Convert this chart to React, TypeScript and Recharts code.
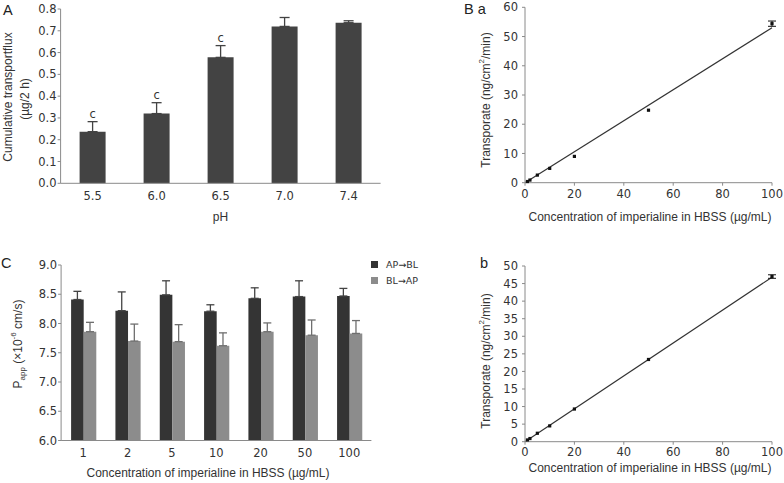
import React from 'react';
import {
  BarChart, Bar, XAxis, YAxis, ErrorBar, ReferenceDot, ComposedChart, Scatter,
  ReferenceLine, Legend,
} from 'recharts';

// ---------- Panel A data ----------
const phCategories = ['5.5', '6.0', '6.5', '7.0', '7.4'];
const fluxValues = [0.237, 0.32, 0.578, 0.72, 0.737];
const fluxErrors = [0.046, 0.05, 0.054, 0.041, 0.009];
const fluxSignificance = ['c', 'c', 'c', '', ''];
const fluxTicks = [0, 0.1, 0.2, 0.3, 0.4, 0.5, 0.6, 0.7, 0.8];

// ---------- Panel B data ----------
const concentrations = [1, 2, 5, 10, 20, 50, 100];
const transportRateA = [0.4, 0.9, 2.6, 4.9, 9.0, 24.8, 54.4];
const transportRateAErr = [0, 0, 0, 0, 0, 0, 0.9];
const fitLineA = [{ x: 0, y: 0 }, { x: 100, y: 53.0 }];
const rateTicksA = [0, 10, 20, 30, 40, 50, 60];

const transportRateB = [0.5, 0.9, 2.4, 4.5, 9.3, 23.4, 47.0];
const transportRateBErr = [0, 0, 0, 0, 0, 0, 0.5];
const fitLineB = [{ x: 0, y: 0 }, { x: 100, y: 46.8 }];
const rateTicksB = [0, 5, 10, 15, 20, 25, 30, 35, 40, 45, 50];
const concTicks = [0, 20, 40, 60, 80, 100];

// ---------- Panel C data ----------
const concCategories = ['1', '2', '5', '10', '20', '50', '100'];
const pappApBl = [8.41, 8.22, 8.49, 8.21, 8.43, 8.46, 8.47];
const pappApBlErr = [0.14, 0.32, 0.24, 0.11, 0.18, 0.27, 0.13];
const pappBlAp = [7.86, 7.70, 7.69, 7.62, 7.86, 7.80, 7.83];
const pappBlApErr = [0.16, 0.29, 0.29, 0.22, 0.15, 0.26, 0.22];
const pappTicks = [6.0, 6.5, 7.0, 7.5, 8.0, 8.5, 9.0];
const seriesNames = ['AP\u2192BL', 'BL\u2192AP'];

// ---------- built tables ----------
const fluxData = phCategories.map((ph, i) => ({
  ph, flux: fluxValues[i], fluxErr: [0, fluxErrors[i]], sig: fluxSignificance[i], top: fluxValues[i] + fluxErrors[i],
}));
const rateDataA = concentrations.map((c, i) => ({ conc: c, rate: transportRateA[i], err: transportRateAErr[i] }));
const rateDataB = concentrations.map((c, i) => ({ conc: c, rate: transportRateB[i], err: transportRateBErr[i] }));
const pappData = concCategories.map((c, i) => ({
  conc: c, ab: pappApBl[i], abErr: [0, pappApBlErr[i]], ba: pappBlAp[i], baErr: [0, pappBlApErr[i]],
}));

// ---------- styles ----------
const FONT_LABEL = '"Liberation Sans", Arial, sans-serif';
const FONT_TICK = '"DejaVu Sans", sans-serif';
const TEXT = '#333';
const AXIS = '#8a8a8a';
const tickStyle = { fontFamily: FONT_TICK, fontSize: 11.5, fill: TEXT };
const labelStyle = { fontFamily: FONT_LABEL, fontSize: 12, fill: TEXT };
const letterStyle = { fontFamily: FONT_LABEL, fontSize: 14.5, fill: '#222' };

const SquareDot = (props: any) => (
  <rect x={props.cx - 1.6} y={props.cy - 1.6} width={3.2} height={3.2} fill="#111" />
);

const vText = (x: number, y: number, content: React.ReactNode, key?: string) => (
  <text key={key} transform={`translate(${x},${y}) rotate(-90)`} textAnchor="middle" dominantBaseline="central" style={labelStyle}>
    {content}
  </text>
);

const hText = (x: number, y: number, content: React.ReactNode) => (
  <text x={x} y={y} textAnchor="middle" dominantBaseline="central" style={labelStyle}>{content}</text>
);

// Panel A titles (local = global coords)
const aYTitle = () => (
  <g>
    <text x={3} y={15} style={letterStyle}>A</text>
    {vText(8, 97, 'Cumulative transportflux', 'l1')}
    {vText(25, 99, '(\u00b5g/2 h)', 'l2')}
  </g>
);
const aXTitle = () => hText(220.5, 217, 'pH');

// Panel Ba titles (local = global - (400,0))
const baYTitle = () => (
  <g>
    <text x={64} y={14} style={letterStyle}>B a</text>
    {vText(86, 100, <>Transporate (ng/cm<tspan baselineShift="super" fontSize="8">2</tspan>/min)</>)}
  </g>
);
const baXTitle = () => hText(250, 217, 'Concentration of imperialine in HBSS (\u00b5g/mL)');

// Panel b titles (local = global - (400,230))
const bYTitle = () => (
  <g>
    <text x={80} y={38} style={letterStyle}>b</text>
    {vText(86, 131, <>Transporate (ng/cm<tspan baselineShift="super" fontSize="8">2</tspan>/min)</>)}
  </g>
);
const bXTitle = () => hText(250, 237.5, 'Concentration of imperialine in HBSS (\u00b5g/mL)');

// Panel C titles (local = global - (0,230))
const cYTitle = () => (
  <g>
    <text x={1} y={38} style={letterStyle}>C</text>
    {vText(18, 114, <>P<tspan baselineShift="sub" fontSize="8">app</tspan> (×10<tspan baselineShift="super" fontSize="8">-6</tspan> cm/s)</>)}
  </g>
);
const cXTitle = () => hText(208, 242.5, 'Concentration of imperialine in HBSS (\u00b5g/mL)');

const legendContent = (props: any) => (
  <div style={{ fontFamily: FONT_TICK, fontSize: 9.5, color: TEXT }}>
    {(props.payload || []).map((p: any) => (
      <div key={p.value} style={{ display: 'flex', alignItems: 'center', height: 16, whiteSpace: 'nowrap' }}>
        <span style={{ display: 'inline-block', width: 7, height: 7, background: p.color, marginRight: 8 }} />
        <span>{p.value}</span>
      </div>
    ))}
  </div>
);

export default function App() {
  return (
    <div style={{ position: 'absolute', left: 0, top: 0, width: 784, height: 483, background: '#fff', overflow: 'hidden' }}>
      {/* Panel A */}
      <div style={{ position: 'absolute', left: 0, top: 0 }}>
        <BarChart width={400} height={230} data={fluxData} margin={{ top: 9, right: 19.4, bottom: 16.7, left: 20.6 }}>
          <XAxis dataKey="ph" height={30} axisLine={{ stroke: AXIS }} tickLine={false} tickSize={7} tickMargin={2}
            tick={tickStyle} label={aXTitle} />
          <YAxis width={40} type="number" domain={[0, 0.8]} ticks={fluxTicks} tickFormatter={(v: number) => v.toFixed(1)}
            axisLine={{ stroke: AXIS }} tickLine={{ stroke: AXIS }} tickSize={3} tickMargin={1} tick={tickStyle}
            interval={0} label={aYTitle} />
          <Bar dataKey="flux" fill="#434343" barSize={26} isAnimationActive={false}>
            <ErrorBar dataKey="fluxErr" direction="y" width={5} stroke="#434343" strokeWidth={1.3} isAnimationActive={false} />
          </Bar>
          {fluxData.filter((d) => d.sig).map((d) => (
            <ReferenceDot key={d.ph} x={d.ph} y={d.top} r={0} stroke="none" fill="none"
              label={{ value: d.sig, position: 'top', offset: 3.5, style: { fontFamily: FONT_TICK, fontSize: 11.5, fill: TEXT } }} />
          ))}
        </BarChart>
      </div>

      {/* Panel B a */}
      <div style={{ position: 'absolute', left: 400, top: 0 }}>
        <ComposedChart width={384} height={230} data={rateDataA} margin={{ top: 7.3, right: 12, bottom: 17.3, left: 85 }}>
          <XAxis dataKey="conc" type="number" domain={[0, 100]} ticks={concTicks} height={30}
            axisLine={{ stroke: AXIS }} tickLine={{ stroke: AXIS }} tickSize={3} tickMargin={4} tick={tickStyle}
            interval={0} label={baXTitle} />
          <YAxis width={40} type="number" domain={[0, 60]} ticks={rateTicksA} axisLine={{ stroke: AXIS }}
            tickLine={{ stroke: AXIS }} tickSize={3} tickMargin={4} tick={tickStyle} interval={0} label={baYTitle} />
          <ReferenceLine segment={[fitLineA[0], fitLineA[1]]} stroke="#333" strokeWidth={1.2} ifOverflow="visible" />
          <Scatter dataKey="rate" shape={SquareDot} isAnimationActive={false}>
            <ErrorBar dataKey="err" direction="y" width={4} stroke="#111" strokeWidth={1} isAnimationActive={false} />
          </Scatter>
        </ComposedChart>
      </div>

      {/* Panel C */}
      <div style={{ position: 'absolute', left: 0, top: 230 }}>
        <BarChart width={430} height={253} data={pappData} barGap={0} margin={{ top: 35, right: 58.6, bottom: 12.5, left: 21.1 }}>
          <XAxis dataKey="conc" height={30} axisLine={{ stroke: AXIS }} tickLine={false} tickSize={6} tickMargin={2}
            tick={tickStyle} interval={0} label={cXTitle} />
          <YAxis width={40} type="number" domain={[6, 9]} ticks={pappTicks} tickFormatter={(v: number) => v.toFixed(1)}
            axisLine={{ stroke: AXIS }} tickLine={{ stroke: AXIS }} tickSize={3} tickMargin={1} tick={tickStyle}
            interval={0} label={cYTitle} />
          <Legend layout="horizontal" verticalAlign="middle" align="center" content={legendContent}
            wrapperStyle={{ position: 'absolute', left: 371, top: 26, width: 60, height: 34 }} />
          <Bar dataKey="ab" name={seriesNames[0]} fill="#343434" barSize={12.6} isAnimationActive={false}>
            <ErrorBar dataKey="abErr" direction="y" width={4} stroke="#444" strokeWidth={1.3} isAnimationActive={false} />
          </Bar>
          <Bar dataKey="ba" name={seriesNames[1]} fill="#8c8c8c" barSize={12.6} isAnimationActive={false}>
            <ErrorBar dataKey="baErr" direction="y" width={4} stroke="#6f6f6f" strokeWidth={1.3} isAnimationActive={false} />
          </Bar>
        </BarChart>
      </div>

      {/* Panel b */}
      <div style={{ position: 'absolute', left: 400, top: 230 }}>
        <ComposedChart width={384} height={253} data={rateDataB} margin={{ top: 36, right: 12, bottom: 11.3, left: 85 }}>
          <XAxis dataKey="conc" type="number" domain={[0, 100]} ticks={concTicks} height={30}
            axisLine={{ stroke: AXIS }} tickLine={{ stroke: AXIS }} tickSize={3} tickMargin={3} tick={tickStyle}
            interval={0} label={bXTitle} />
          <YAxis width={40} type="number" domain={[0, 50]} ticks={rateTicksB} axisLine={{ stroke: AXIS }}
            tickLine={{ stroke: AXIS }} tickSize={3} tickMargin={4} tick={tickStyle} interval={0} label={bYTitle} />
          <ReferenceLine segment={[fitLineB[0], fitLineB[1]]} stroke="#333" strokeWidth={1.2} ifOverflow="visible" />
          <Scatter dataKey="rate" shape={SquareDot} isAnimationActive={false}>
            <ErrorBar dataKey="err" direction="y" width={4} stroke="#111" strokeWidth={1} isAnimationActive={false} />
          </Scatter>
        </ComposedChart>
      </div>
    </div>
  );
}
